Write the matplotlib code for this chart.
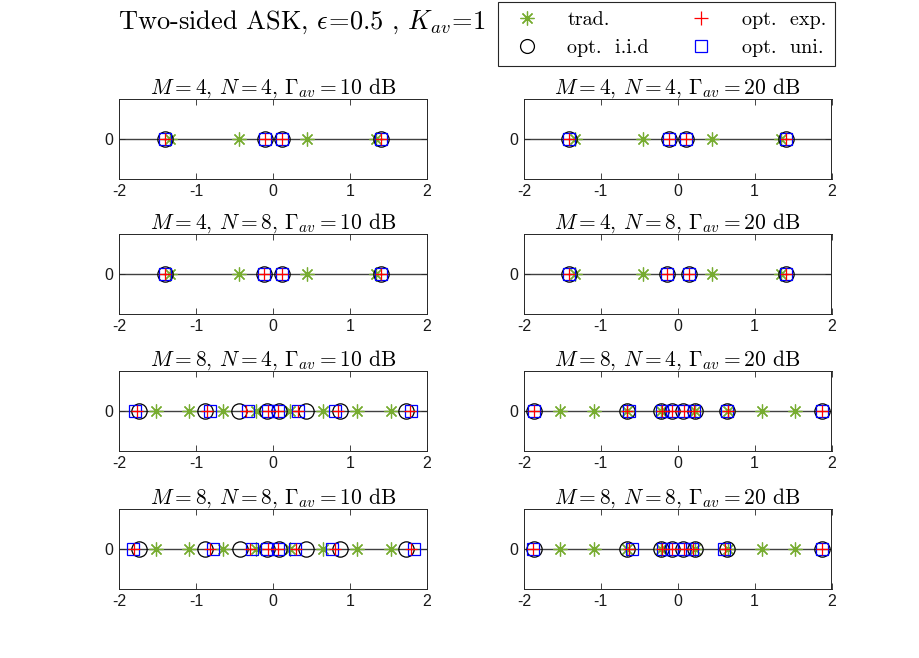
import numpy as np
import matplotlib
matplotlib.use('Agg')
import matplotlib.pyplot as plt

plt.rcParams['font.family'] = ['Liberation Sans', 'DejaVu Sans']
plt.rcParams['mathtext.fontset'] = 'cm'
plt.rcParams['axes.unicode_minus'] = False

# -----------------------------------------------------------------------------
# data read off the picture (constellation points on the real axis)
# -----------------------------------------------------------------------------
titles = [r'$M=4$, $N=4$, $\Gamma_{av}=10$ dB', r'$M=4$, $N=4$, $\Gamma_{av}=20$ dB',
          r'$M=4$, $N=8$, $\Gamma_{av}=10$ dB', r'$M=4$, $N=8$, $\Gamma_{av}=20$ dB',
          r'$M=8$, $N=4$, $\Gamma_{av}=10$ dB', r'$M=8$, $N=4$, $\Gamma_{av}=20$ dB',
          r'$M=8$, $N=8$, $\Gamma_{av}=10$ dB', r'$M=8$, $N=8$, $\Gamma_{av}=20$ dB']

trad_m4 = [-1.342, -0.447, 0.447, 1.342]
trad_m8 = [-1.528, -1.091, -0.655, -0.218, 0.218, 0.655, 1.091, 1.528]

# opt. exp.
exp_pts = [
    [-1.41, -0.11, 0.11, 1.41],
    [-1.41, -0.11, 0.11, 1.41],
    [-1.41, -0.12, 0.12, 1.41],
    [-1.41, -0.14, 0.14, 1.41],
    [-1.77, -0.86, -0.35, -0.07, 0.07, 0.33, 0.85, 1.78],
    [-1.87, -0.66, -0.21, -0.075, 0.075, 0.21, 0.66, 1.87],
    [-1.81, -0.82, -0.30, -0.07, 0.07, 0.30, 0.80, 1.80],
    [-1.88, -0.63, -0.20, -0.075, 0.075, 0.20, 0.62, 1.88],
]
# opt. i.i.d
iid_pts = [
    [-1.41, -0.11, 0.11, 1.41],
    [-1.41, -0.11, 0.11, 1.41],
    [-1.41, -0.12, 0.12, 1.41],
    [-1.41, -0.14, 0.14, 1.41],
    [-1.74, -0.885, -0.438, -0.074, 0.074, 0.43, 0.872, 1.731],
    [-1.866, -0.665, -0.222, -0.075, 0.07, 0.224, 0.64, 1.87],
    [-1.74, -0.89, -0.435, -0.074, 0.074, 0.43, 0.872, 1.731],
    [-1.866, -0.665, -0.222, -0.075, 0.07, 0.224, 0.64, 1.87],
]
# opt. uni.
uni_pts = [
    [-1.41, -0.11, 0.11, 1.41],
    [-1.41, -0.11, 0.11, 1.41],
    [-1.41, -0.12, 0.12, 1.41],
    [-1.41, -0.14, 0.14, 1.41],
    [-1.80, -0.82, -0.33, -0.07, 0.07, 0.32, 0.81, 1.80],
    [-1.87, -0.64, -0.21, -0.075, 0.075, 0.21, 0.64, 1.87],
    [-1.826, -0.78, -0.28, -0.074, 0.069, 0.285, 0.77, 1.835],
    [-1.88, -0.60, -0.19, -0.075, 0.075, 0.19, 0.60, 1.88],
]

green = (0.466, 0.674, 0.188)
edge = (0.15, 0.15, 0.15)
star = (8, 2, 0)

W, H = 920, 658
fig = plt.figure(figsize=(9.2, 6.58), dpi=100)

col_x = [119.3, 524.0]
row_top = [99.3, 234.3, 371.0, 509.0]
aw, ah = 307.5, 79.5

for i in range(8):
    r, c = i // 2, i % 2
    ax = fig.add_axes([col_x[c] / W, 1 - (row_top[r] + ah) / H, aw / W, ah / H])
    trad = trad_m4 if r < 2 else trad_m8
    ax.plot([-2, 2], [0, 0], color=(0.25, 0.25, 0.25), lw=1.0, zorder=1)
    ax.plot(trad, np.zeros(len(trad)), ls='none', marker=star, ms=10, mec=green, mew=0.9, zorder=2)
    ax.plot(iid_pts[i], np.zeros(len(iid_pts[i])), ls='none', marker='o', ms=11, mfc='none', mec='k', mew=0.9, zorder=3)
    ax.plot(uni_pts[i], np.zeros(len(uni_pts[i])), ls='none', marker='s', ms=8.5, mfc='none', mec='b', mew=0.9, zorder=4)
    ax.plot(exp_pts[i], np.zeros(len(exp_pts[i])), ls='none', marker='+', ms=8.5, mec='r', mew=0.9, zorder=5)
    ax.set_xlim(-2, 2)
    ax.set_ylim(-1, 1)
    ax.set_xticks([-2, -1, 0, 1, 2])
    ax.set_yticks([0])
    ax.tick_params(direction='in', top=True, right=True, length=4, width=0.6,
                   labelsize=11.5, colors=edge, labelcolor=(0.1, 0.1, 0.1), pad=4)
    for s in ax.spines.values():
        s.set_color(edge)
        s.set_linewidth(0.7)
    ax.set_title(titles[i], family='cmr10', fontsize=15.5, pad=4)

fig.text(118 / W, 1 - 22 / H, r'Two-sided ASK, $\epsilon\!=\!0.5$ , $K_{av}\!=\!1$',
         family='cmr10', fontsize=19, ha='left', va='center')

h_trad, = plt.plot([], [], ls='none', marker=star, ms=10, mec=green, mew=0.9)
h_iid, = plt.plot([], [], ls='none', marker='o', ms=10, mfc='none', mec='k', mew=0.9)
h_exp, = plt.plot([], [], ls='none', marker='+', ms=10, mec='r', mew=0.9)
h_uni, = plt.plot([], [], ls='none', marker='s', ms=8, mfc='none', mec='b', mew=0.9)
leg = fig.legend([h_trad, h_iid, h_exp, h_uni], ['trad.', 'opt.  i.i.d', 'opt.  exp.', 'opt.  uni.'],
                 ncol=2, loc='upper left', bbox_to_anchor=(498 / W, 1 - 2 / H), borderaxespad=0,
                 prop={'family': 'cmr10', 'size': 14.5}, frameon=True, fancybox=False,
                 edgecolor=edge, framealpha=1, borderpad=0.45, handletextpad=1.0,
                 columnspacing=1.6, labelspacing=0.5, handlelength=2.0)
leg.get_frame().set_linewidth(0.8)

fig.savefig('out.png', dpi=100)
